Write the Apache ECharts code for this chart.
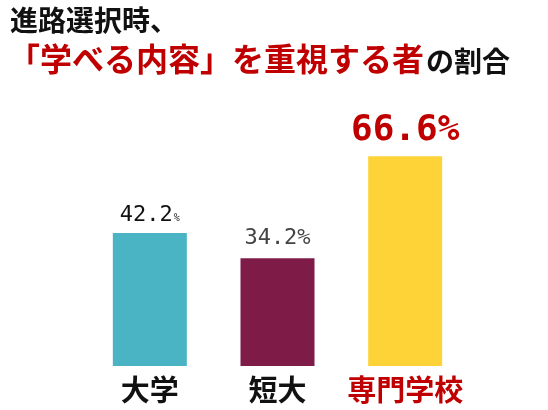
<!DOCTYPE html>
<html><head><meta charset="utf-8">
<script src="https://cdn.jsdelivr.net/npm/echarts@6/dist/echarts.min.js"></script>
<style>html,body{margin:0;padding:0;background:#fff}#c{width:548px;height:410px}</style>
</head><body><div id="c"></div>
<script>
const categories = ['大学', '短大', '専門学校'];
const values = [42.2, 34.2, 66.6];
const barColors = ['#4bb4c4', '#7e1b47', '#fdd337'];
const catStyles = ['k', 'k', 'r'];

const chart = echarts.init(document.getElementById('c'));
const mono = '"DejaVu Sans Mono", monospace';
const jp = '"Noto Sans CJK JP", sans-serif';
const labelCfg = [
  { formatter: '{n|42.2}{p|%}', rich: { n: { fontSize: 22, fontFamily: mono, color: '#111', fontWeight: 'normal' }, p: { fontSize: 10, fontFamily: mono, color: '#222', padding: [6, 0, 0, 1] } }, distance: 7 },
  { formatter: '{n|34.2%}', rich: { n: { fontSize: 22, fontFamily: mono, color: '#444' } }, distance: 9 },
  { formatter: '{n|66.6%}', rich: { n: { fontSize: 36, fontFamily: mono, color: '#c00000', fontWeight: 'bold' } }, distance: 8 }
];
chart.setOption({
  animation: false,
  title: [
    { text: '進路選択時、', left: 5, top: 1, textStyle: { fontFamily: jp, fontSize: 28, fontWeight: 'bold', color: '#111' } },
    { text: '{r|「学べる内容」を重視する者}{b|の割合}', left: 3, top: 38,
      textStyle: { rich: {
        r: { fontFamily: jp, fontSize: 32, fontWeight: 'bold', color: '#c00000' },
        b: { fontFamily: jp, fontSize: 28, fontWeight: 'bold', color: '#111', padding: [4, 0, 0, 2] }
      } } }
  ],
  grid: { left: 86, right: 79, top: 114, bottom: 44 },
  xAxis: {
    type: 'category', data: categories,
    axisLine: { show: false }, axisTick: { show: false },
    axisLabel: {
      interval: 0, margin: 9,
      formatter: (v, i) => '{' + catStyles[i] + '|' + v + '}',
      rich: {
        k: { fontFamily: jp, fontSize: 29, fontWeight: 'bold', color: '#111' },
        r: { fontFamily: jp, fontSize: 29, fontWeight: 'bold', color: '#c00000' }
      }
    }
  },
  yAxis: { type: 'value', min: 0, max: 80, show: false, splitLine: { show: false } },
  series: [{
    type: 'bar', barWidth: 74,
    data: values.map((v, i) => ({
      value: v,
      itemStyle: { color: barColors[i] },
      label: Object.assign({ show: true, position: 'top' }, labelCfg[i])
    }))
  }]
});
</script></body></html>
